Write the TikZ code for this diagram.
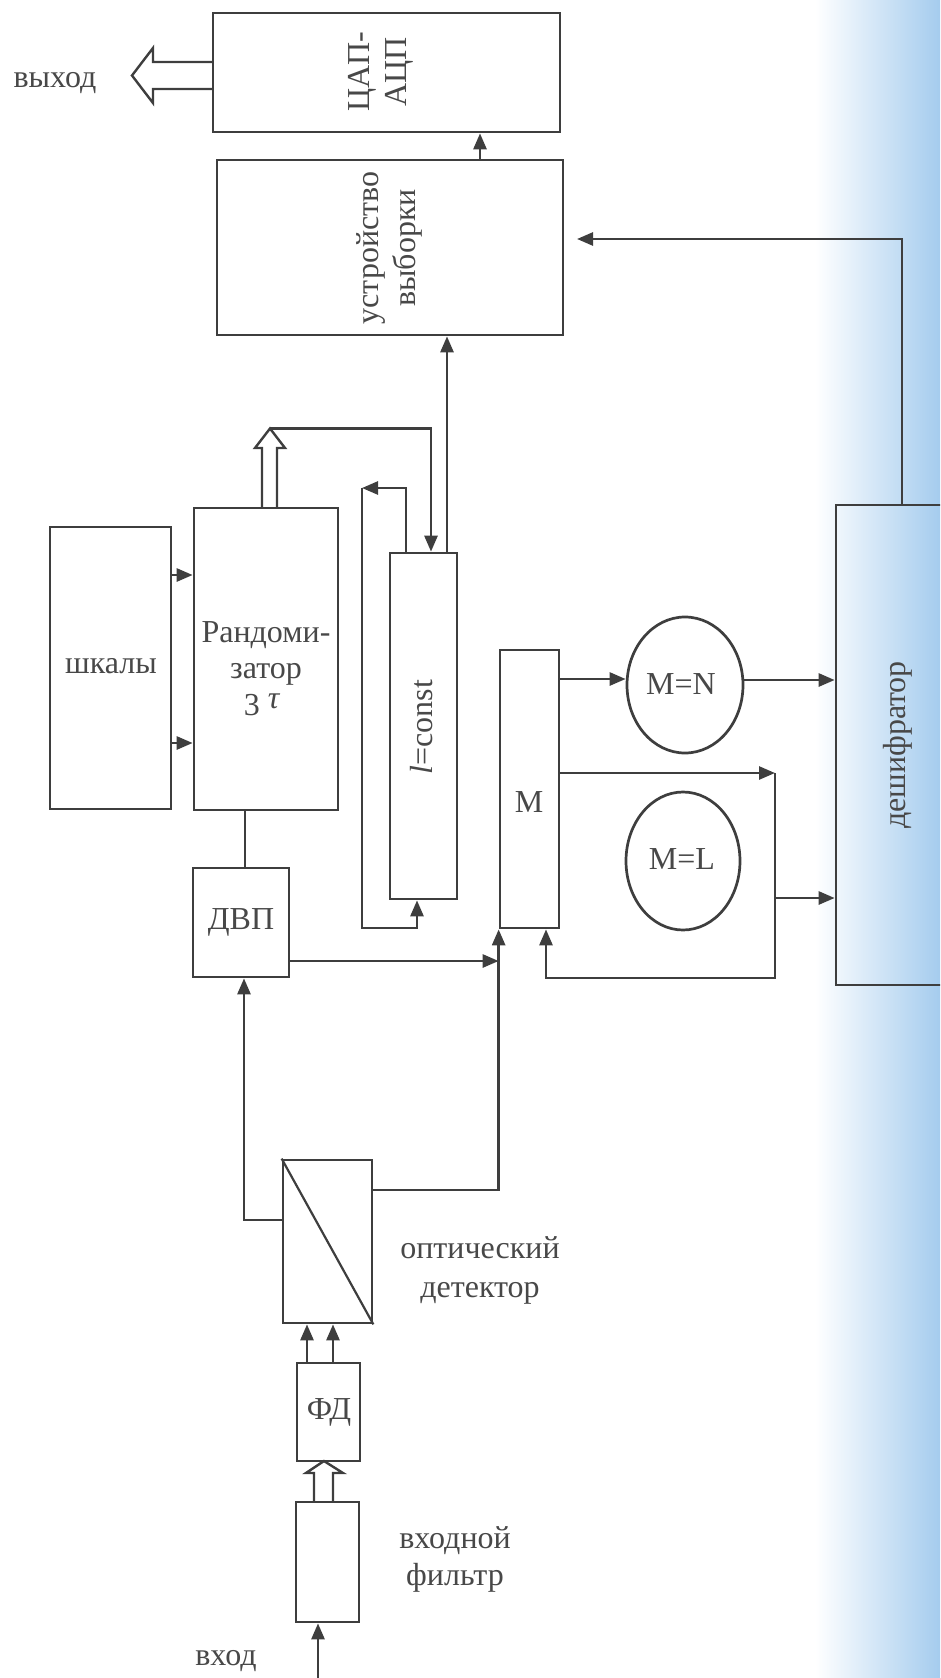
\documentclass[tikz,border=0pt]{standalone}
\usepackage{fontspec}
\setmainfont{Liberation Serif}
\usetikzlibrary{arrows.meta,shapes.geometric,calc}
\definecolor{ink}{RGB}{62,62,62}
\definecolor{txtc}{RGB}{72,72,72}
\definecolor{tint}{RGB}{165,204,238}
\begin{document}
\begin{tikzpicture}[x=1pt,y=-1pt,line width=2.7pt,color=ink,
  box/.style n args={2}{draw=ink,rectangle,inner sep=0pt,minimum width=#1pt,minimum height=#2pt},
  oval/.style n args={2}{draw=ink,ellipse,inner sep=0pt,minimum width=#1pt,minimum height=#2pt},
  lbl/.style={text=txtc,inner sep=0pt,font=\fontsize{32}{37}\selectfont},
  arr/.style={-{Triangle[length=16pt,width=13pt]}},
  hollow/.style={draw=ink,line width=2.4pt,line join=miter}]
\useasboundingbox (0,0) rectangle (940,1678);
\clip (0,0) rectangle (940,1678);
\shade[left color=white,right color=tint,draw=none] (815,0) rectangle (940,1678);

% blocks
\node[box={347}{119}] (dac) at (386.5,72.5) {};
\node[lbl,rotate=90,align=center] (dact) at (381,72) {ЦАП-\\АЦП};
\node[box={346}{175}] (sel) at (390,247.5) {};
\node[lbl,rotate=90,align=center] (selt) at (389,248) {устройство\\выборки};
\node[box={121}{282}] (scales) at (110.5,668) {};
\node[lbl] (scalest) at (111,666) {шкалы};
\node[box={144}{302}] (rand) at (266,659) {};
\node[lbl,anchor=base] (randt1) at (266,642) {Рандоми-};
\node[lbl,anchor=base] (randt2) at (266,678) {затор};
\node[lbl,anchor=base] (randt3) at (262,715) {3\hspace{8pt}\raisebox{7pt}{\textit{τ}}};
\node[box={67}{346}] (lconst) at (423.5,726) {};
\node[lbl,rotate=90] (lconstt) at (422,727) {\textit{l}=const};
\node[box={96}{109}] (dvp) at (241,922.5) {};
\node[lbl] (dvpt) at (241,922) {ДВП};
\node[box={59}{278}] (M) at (529.5,789) {};
\node[lbl] (Mt) at (529,802) {M};
\node[oval={116}{136}] (MN) at (685,685) {};
\node[lbl] (MNt) at (681,684) {M=N};
\node[oval={114}{138}] (ML) at (683,861) {};
\node[lbl] (MLt) at (682,859) {M=L};
\node[box={200}{480}] (dec) at (936,745) {};
\node[lbl,rotate=90] (dect) at (898,745) {дешифратор};
\node[box={89}{163}] (det) at (327.5,1241.5) {};
\node[box={63}{98}] (fd) at (328.5,1412) {};
\node[lbl] (fdt) at (329,1412) {ФД};
\node[box={63}{120}] (filt) at (327.5,1562) {};

% outside labels
\node[lbl,anchor=base] (outl) at (55,87) {выход};
\node[lbl,anchor=base] (detl1) at (480,1258) {оптический};
\node[lbl,anchor=base] (detl2) at (480,1297) {детектор};
\node[lbl,anchor=base] (filtl1) at (455,1548) {входной};
\node[lbl,anchor=base] (filtl2) at (455,1585) {фильтр};
\node[lbl,anchor=base] (inl) at (226,1665) {вход};

% helper coordinates
\coordinate (c480) at (480,0);
\coordinate (c447) at (447,0);
\coordinate (c431) at (431,0);
\coordinate (c406) at (406,0);
\coordinate (c245) at (245,0);
\coordinate (c244) at (244,0);
\coordinate (c546) at (546,0);
\coordinate (c307) at (307,0);
\coordinate (c333) at (333,0);
\coordinate (y575) at (0,575);
\coordinate (y743) at (0,743);
\coordinate (y961) at (0,961);
\coordinate (y1190) at (0,1190);
\coordinate (y1220) at (0,1220);
\coordinate (y679) at (0,679);
\coordinate (y680) at (0,680);
\coordinate (y898) at (0,898);
\coordinate (lp1) at (362,488);
\coordinate (lp2) at (417,928);
\coordinate (cr) at (775,773);
\coordinate (cb) at (775,978);
\coordinate (inb) at (318,1690);
\coordinate (k1) at (902,239);
\coordinate (selin) at (577,239);
\coordinate (rtip) at (270,428.5);

% connectors
\draw[arr] (sel.north -| c480) -- (dac.south -| c480);
\draw[arr] (dec.north -| k1) -- (k1) -- (selin);
\draw[arr] (lconst.north -| c447) -- (sel.south -| c447);
\draw[arr] (rtip) -| (lconst.north -| c431);
\draw[arr] (lconst.north -| c406) |- (lp1);
\draw[arr] (lp1) |- (lp2) -- (lconst.south -| lp2);
\draw[arr] (scales.east |- y575) -- (rand.west |- y575);
\draw[arr] (scales.east |- y743) -- (rand.west |- y743);
\draw (rand.south -| c245) -- (dvp.north -| c245);
\draw[arr] (dvp.east |- y961) -- (M.south west |- y961);
\draw[arr] (det.east |- y1190) -| (M.south west);
\draw[arr] (det.west |- y1220) -| (dvp.south -| c244);
\draw[arr] (M.east |- y679) -- (MN.west |- y679);
\draw[arr] (MN.east |- y680) -- (dec.west |- y680);
\draw[arr] (M.east |- cr) -- (cr);
\draw[arr] (cr) -- (cb) -| (M.south -| c546);
\draw[arr] (cr |- y898) -- (dec.west |- y898);
\draw[arr] (fd.north -| c307) -- (det.south -| c307);
\draw[arr] (fd.north -| c333) -- (det.south -| c333);
\draw[arr] (inb) -- (filt.south -| inb);
\draw[line width=2.2pt] (det.north west) -- (det.south east);

% hollow (bus) arrows
\draw[hollow] (213,62) -- (153,62) -- (153,48) -- (132,75.5) -- (153,103) -- (153,89) -- (213,89);
\draw[hollow] (262,508) -- (262,448) -- (255,448) -- (270,428.5) -- (285,448) -- (277,448) -- (277,508);
\draw[hollow] (314,1502) -- (314,1473) -- (306,1473) -- (324,1461) -- (343,1473) -- (333,1473) -- (333,1502);
\end{tikzpicture}
\end{document}
